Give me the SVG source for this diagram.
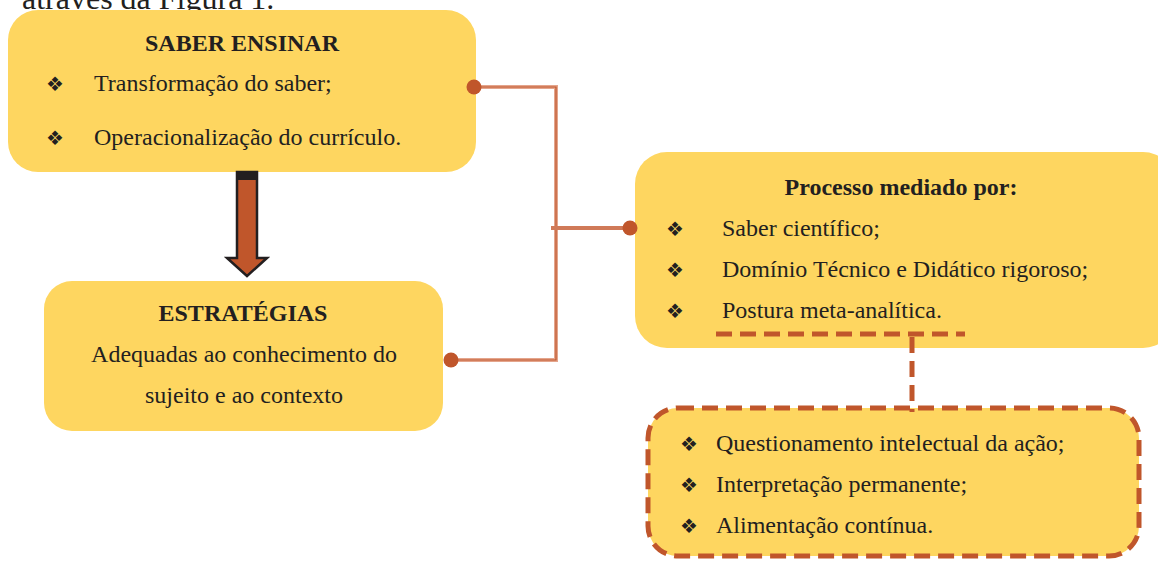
<svg xmlns="http://www.w3.org/2000/svg" width="1158" height="563" viewBox="0 0 1158 563">
<style>
.box{fill:#FED660}
.t{font-family:"Liberation Serif","Times New Roman",serif;font-size:24px;fill:#231F20}
.b{font-weight:bold}
.m{text-anchor:middle}
.bu{font-family:"DejaVu Sans",sans-serif;font-size:20px;fill:#231F20}
.dash{fill:none;stroke:#C0562B;stroke-width:5;stroke-dasharray:16 8}
.dot{fill:#C0562B}
</style>
<text x="22" y="9" class="t" style="font-size:32px">através da Figura 1.</text>
<g id="saber">
<rect class="box" x="8" y="10" width="468" height="162" rx="30"/>
<text x="242" y="51" class="t b m">SABER ENSINAR</text>
<text x="46" y="91" class="bu">❖</text>
<text x="94" y="91" class="t">Transformação do saber;</text>
<text x="46" y="145" class="bu">❖</text>
<text x="94" y="145" class="t">Operacionalização do currículo.</text>
</g>
<g id="arrow">
<polygon points="237,172 257,172 257,258 267,258 247,276 227,258 237,258" fill="#C0562B" stroke="#231F20" stroke-width="2.5" stroke-linejoin="miter"/>
<rect x="236" y="172" width="22" height="8" fill="#231F20"/>
</g>
<g id="estrategias">
<rect class="box" x="44" y="281" width="399" height="150" rx="28"/>
<text x="243" y="321" class="t b m">ESTRATÉGIAS</text>
<text x="244" y="362" class="t m">Adequadas ao conhecimento do</text>
<text x="244" y="403" class="t m">sujeito e ao contexto</text>
</g>
<g id="processo">
<rect class="box" x="635" y="152" width="540" height="196" rx="32"/>
<text x="901" y="195" class="t b m">Processo mediado por:</text>
<text x="666" y="236" class="bu">❖</text>
<text x="722" y="236" class="t">Saber científico;</text>
<text x="666" y="277" class="bu">❖</text>
<text x="722" y="277" class="t">Domínio Técnico e Didático rigoroso;</text>
<text x="666" y="318" class="bu">❖</text>
<text x="722" y="318" class="t">Postura meta-analítica.</text>
</g>
<g id="reflexao">
<rect class="box" x="648" y="408" width="491" height="148" rx="30"/>
<rect class="dash" x="648" y="408" width="491" height="148" rx="30"/>
<text x="680" y="451" class="bu">❖</text>
<text x="716" y="451" class="t">Questionamento intelectual da ação;</text>
<text x="680" y="492" class="bu">❖</text>
<text x="716" y="492" class="t">Interpretação permanente;</text>
<text x="680" y="533" class="bu">❖</text>
<text x="716" y="533" class="t">Alimentação contínua.</text>
</g>
<g id="connectors">
<polyline points="474,87 556,87 556,360 451,360" fill="none" stroke="#E4A58C" stroke-width="4"/>
<polyline points="474,87 556,87 556,360 451,360" fill="none" stroke="#C0562B" stroke-width="1.2"/>
<line x1="551" y1="228" x2="630" y2="228" stroke="#D07A58" stroke-width="4"/>
<circle class="dot" cx="474" cy="87" r="7.5"/>
<circle class="dot" cx="451" cy="360" r="7.5"/>
<circle class="dot" cx="630" cy="228" r="7.5"/>
<line class="dash" x1="716" y1="334" x2="965" y2="334" stroke-dasharray="14 8"/>
<line class="dash" x1="912" y1="337" x2="912" y2="412" stroke-dasharray="14 8"/>
</g>
</svg>
